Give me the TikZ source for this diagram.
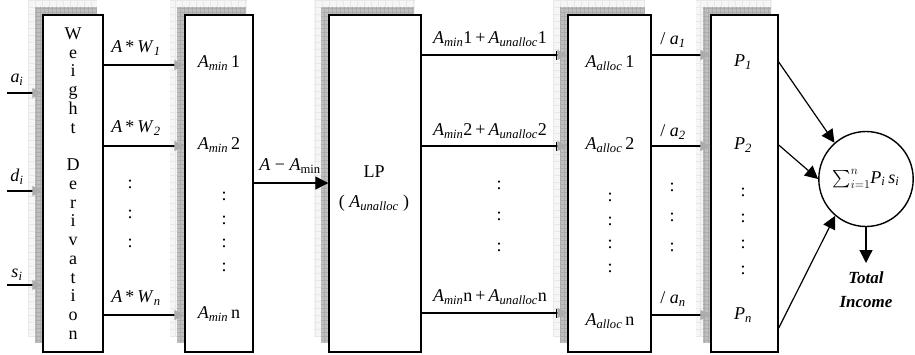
\documentclass[tikz,border=0pt]{standalone}
\usepackage{amsmath}
\usepackage{fontspec}
\setmainfont{Liberation Serif}
\usetikzlibrary{arrows.meta,shapes.geometric}

% italic symbols with italic subscripts
\newcommand\Amin{\textit{A}\textsubscript{\textit{min}}}
\newcommand\Aun{\textit{A}\textsubscript{\textit{unalloc}}}
\newcommand\Aal{\textit{A}\textsubscript{\textit{alloc}}}
\newcommand\isub[2]{\textit{#1}\textsubscript{\textit{#2}}}

\begin{document}
\begin{tikzpicture}[x=1pt, y=-1pt, font=\fontsize{18}{21.6}\selectfont,
  block/.style={draw, line width=1.4pt, fill=white, minimum height=337pt, inner sep=0pt},
  feed/.style={line width=1.2pt, -{Triangle[length=10pt, width=10pt, color=gray!65]}},
  bar feed/.style={line width=1.2pt, -{Bar[width=9pt, line width=1.6pt] Triangle[length=10pt, width=10pt, color=gray!65]}},
  push/.style={line width=1.2pt, -{Triangle[length=13pt, width=13pt]}},
  colons/.style={align=center, inner sep=0pt},
  tag/.style={inner sep=1pt}]
\useasboundingbox (0,0) rectangle (915,354);

% grey backdrop behind every block
\foreach \l/\r in {43/103, 185/253, 329/421, 568/651, 711/778} {
  \fill[gray!7] (\l-15,0) rectangle (\r-6,337);
  \draw[gray!18, line width=0.4pt, step=7pt] (\l-15,0) grid (\r-6,337);
  \fill[gray!50] (\l-8,7) rectangle (\r-7,343);
  \draw[gray!65, line width=0.3pt, step=4pt] (\l-8,7) grid (\r-7,343);
}

% blocks
\node[block, minimum width=60pt, align=center, font=\fontsize{18}{18.75}\selectfont] (wd) at (73,183.5)
  {W\\e\\i\\g\\h\\t\\\mbox{}\\D\\e\\r\\i\\v\\a\\t\\i\\o\\n};
\node[block, minimum width=68pt] (amin) at (219,183.5) {};
\node[block, minimum width=92pt] (lp) at (375,183.5) {};
\node[block, minimum width=83pt] (alloc) at (609.5,183.5) {};
\node[block, minimum width=67pt] (prob) at (744.5,183.5) {};

% contents of the blocks
\node (m1) at (219,63) {\Amin\,1};
\node (m2) at (219,145) {\Amin\,2};
\node (mn) at (219,314) {\Amin\,n};
\node[colons, font=\fontsize{18}{23.7}\selectfont] (mdots) at (224,232) {:\\:\\:\\:};

\node (lptitle) at (374,172) {LP};
\node (lpvar) at (374,203) {( \Aun\ )};

\node (al1) at (610,63) {\Aal\,1};
\node (al2) at (610,145) {\Aal\,2};
\node (aln) at (610,321) {\Aal\,n};
\node[colons, font=\fontsize{18}{23.7}\selectfont] (aldots) at (610,233) {:\\:\\:\\:};

\node (p1) at (743,62) {\isub{P}{1}};
\node (p2) at (743,145) {\isub{P}{2}};
\node (pn) at (743,315) {\isub{P}{n}};
\node[colons, font=\fontsize{18}{26}\selectfont] (pdots) at (743,231) {:\\:\\:\\:};

% inputs
\node (ai) at (17,80) {\isub{a}{i}};
\node (di) at (17,177) {\isub{d}{i}};
\node (si) at (17,275) {\isub{s}{i}};
\coordinate (ain) at (7,93);
\coordinate (din) at (7,191);
\coordinate (sin) at (7,285);
\draw[feed] (ain) -- (ain -| wd.west);
\draw[feed] (din) -- (din -| wd.west);
\draw[feed] (sin) -- (sin -| wd.west);

% weights
\coordinate (w1) at (0,65);
\coordinate (w2) at (0,146);
\coordinate (wn) at (0,315);
\draw[feed] (w1 -| wd.east) -- (w1 -| amin.west);
\draw[feed] (w2 -| wd.east) -- (w2 -| amin.west);
\draw[feed] (wn -| wd.east) -- (wn -| amin.west);
\node[tag] (w1l) at (136,48) {\textit{A}\,*\,\isub{W}{1}};
\node[tag] (w2l) at (136,128) {\textit{A}\,*\,\isub{W}{2}};
\node[tag] (wnl) at (136,298) {\textit{A}\,*\,\isub{W}{n}};
\node[colons, font=\fontsize{18}{29.5}\selectfont] (wdots) at (130,214) {:\\:\\:};

% remainder into the LP
\coordinate (rest) at (0,183);
\draw[push] (rest -| amin.east) -- (rest -| lp.west);
\node[tag] (restl) at (290,166) {\textit{A} − \textit{A}\textsubscript{min}};

% LP outputs
\coordinate (u1) at (0,55);
\coordinate (u2) at (0,146);
\coordinate (un) at (0,313);
\draw[bar feed] (u1 -| lp.east) -- (u1 -| alloc.west);
\draw[bar feed] (u2 -| lp.east) -- (u2 -| alloc.west);
\draw[bar feed] (un -| lp.east) -- (un -| alloc.west);
\node[tag] (u1l) at (490,39) {\Amin{}1\,+\,\Aun{}1};
\node[tag] (u2l) at (490,131) {\Amin{}2\,+\,\Aun{}2};
\node[tag] (unl) at (490,297) {\Amin{}n\,+\,\Aun{}n};
\node[colons, font=\fontsize{18}{31}\selectfont] (udots) at (499,216) {:\\:\\:};

% division by the demand
\coordinate (d1) at (0,55);
\coordinate (d2) at (0,146);
\coordinate (dn) at (0,315);
\draw[feed] (d1 -| alloc.east) -- (d1 -| prob.west);
\draw[feed] (d2 -| alloc.east) -- (d2 -| prob.west);
\draw[feed] (dn -| alloc.east) -- (dn -| prob.west);
\node[tag] (d1l) at (673,40) {/ \isub{a}{1}};
\node[tag] (d2l) at (673,132) {/ \isub{a}{2}};
\node[tag] (dnl) at (673,299) {/ \isub{a}{n}};
\node[colons, font=\fontsize{18}{30}\selectfont] (ddots) at (672,217) {:\\:\\:};

% total
\node[draw, ellipse, line width=1.4pt, minimum width=87pt, minimum height=95pt, inner sep=0pt] (sum) at (866,179)
  {$\sum_{i=1}^{n}$\isub{P}{i}\,\isub{s}{i}};
\draw[push] (p1 -| prob.east) -- (sum.131);
\draw[push] (p2 -| prob.east) -- (sum.west);
\draw[push] ([yshift=-13pt]pn -| prob.east) -- (sum.230);
\node[align=center, font=\fontsize{17}{24}\bfseries\itshape] (income) at (866,290) {Total\\Income};
\coordinate (incometop) at (866,263);
\draw[push] (sum.south) -- (incometop);
\end{tikzpicture}
\end{document}
